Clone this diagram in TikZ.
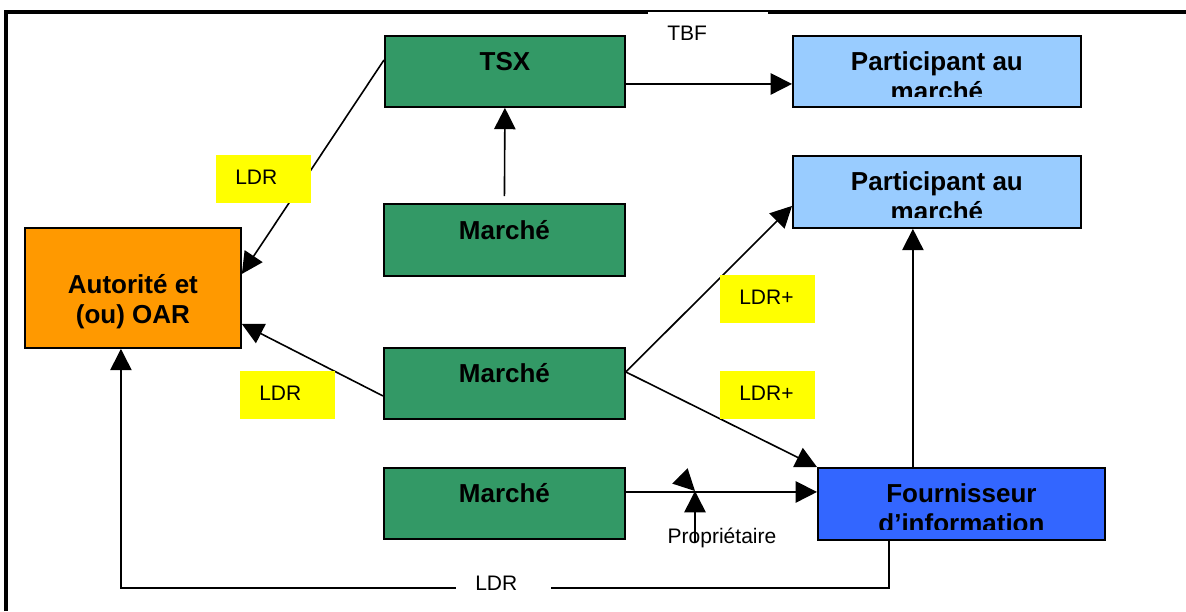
\documentclass[tikz,border=0pt]{standalone}
\usepackage{fontspec}
\setmainfont{Liberation Sans}
\usetikzlibrary{arrows.meta}

\definecolor{marchegreen}{HTML}{339966}
\definecolor{oarorange}{HTML}{FF9900}
\definecolor{partblue}{HTML}{99CCFF}
\definecolor{fournblue}{HTML}{3366FF}
\definecolor{tagyellow}{HTML}{FFFF00}

\tikzset{
  box/.style={draw,line width=1.4pt,anchor=north west,inner sep=0pt},
  boxtext/.style={anchor=base,inner sep=0pt,font=\fontsize{19.5}{23}\selectfont\bfseries},
  tag/.style={anchor=north west,inner xsep=14.25pt,inner ysep=0pt,text width=42.75pt,
    text height=21.75pt,text depth=14.25pt,align=left,font=\fontsize{15.75}{18}\selectfont},
  arr/.style={-{Triangle[length=16pt,width=16pt]},line width=1.2pt},
}
\newcommand{\twolines}[2]{\begin{tabular}[t]{@{}c@{}}#1\\#2\end{tabular}}

\begin{document}
\begin{tikzpicture}[x=0.75pt,y=-0.75pt]
   \useasboundingbox (0,0) rectangle (1186,611);
   % outer frame, open on the right and at the bottom
   \draw [line width=3pt] (6,611) -- (6,12) -- (1186,12);
   % the boxes
   \node [box,fill=marchegreen,minimum width=180pt,minimum height=53.25pt] (tsx) at (384,35) {};
   \node [box,fill=partblue,minimum width=216pt,minimum height=53.25pt] (pa1) at (792,35) {};
   \node [box,fill=partblue,minimum width=216pt,minimum height=54pt] (pa2) at (792,155) {};
   \node [box,fill=marchegreen,minimum width=180.75pt,minimum height=54pt] (m1) at (383,203) {};
   \node [box,fill=oarorange,minimum width=162pt,minimum height=90pt] (oar) at (24,227) {};
   \node [box,fill=marchegreen,minimum width=180.75pt,minimum height=53.25pt] (m2) at (383,347) {};
   \node [box,fill=marchegreen,minimum width=180.75pt,minimum height=53.25pt] (m3) at (383,467) {};
   \node [box,fill=fournblue,minimum width=215.25pt,minimum height=54pt] (four) at (817,467) {};
   % box texts, first baseline 35px under the top edge
   \node [boxtext] (tsx-t) at ([yshift=-26.25pt]tsx.north) {TSX};
   \node [boxtext] (m1-t) at ([yshift=-27pt]m1.north) {Marché};
   \node [boxtext] (m2-t) at ([yshift=-26.25pt]m2.north) {Marché};
   \node [boxtext] (m3-t) at ([yshift=-26.25pt]m3.north) {Marché};
   \node [boxtext] (oar-t) at ([yshift=-49.5pt]oar.north) {\twolines{Autorité et}{(ou) OAR}};
   % the second line is cut off in these three
   \foreach \b/\first/\second in {pa1/Participant au/marché,pa2/Participant au/marché,four/Fournisseur/d’information} {
     \begin{scope}
       \clip (\b.north west) rectangle ([yshift=8.25pt]\b.south east);
       \node [boxtext] (\b-t) at ([yshift=-26.25pt]\b.north) {\twolines{\first}{\second}};
     \end{scope}
   }
   % connectors
   \draw [arr] ([yshift=8.6pt]tsx.west) -- ([yshift=10.5pt]oar.east);
   \draw [arr] ([yshift=5.25pt]m1.north) -- (tsx.south);
   \draw [arr] ([yshift=-9.4pt]tsx.east) -- ([yshift=-9.4pt]pa1.west);
   \draw [arr] ([yshift=-9.4pt]m2.west) -- ([yshift=-27pt]oar.east);
   \draw [arr] ([yshift=8.6pt]m2.east) -- ([yshift=-10.5pt]pa2.west);
   \draw [arr] ([yshift=8.6pt]m2.east) -- (four.north west);
   \draw [arr] ([xshift=-36.4pt]four.north) -- ([xshift=-36.4pt]four.north |- pa2.south);
   \draw [arr] ([yshift=8.6pt]m3.east) -- ([yshift=8.6pt]m3.east -| four.west);
   \draw [arr] ([xshift=-54.4pt]four.south) -- ++(0,47) -| ([xshift=-9pt]oar.south);
   % owner arrows meeting the feed line
   \coordinate (jn) at (695,491);
   \node [anchor=base,inner sep=0pt,font=\fontsize{15.75}{18}\selectfont] (prop) at (722,543) {Propriétaire};
   \draw [arr] (prop.base -| jn) -- (jn);
   \draw [arr] ([shift={(-15,-15)}]jn) -- (jn);
   % labels
   \node [tag,fill=white,text width=61.5pt] (tbf) at (648,11.5) {TBF};
   \node [tag,fill=tagyellow] (ldr1) at (216,155) {LDR};
   \node [tag,fill=tagyellow] (ldr2) at (240,371) {LDR};
   \node [tag,fill=tagyellow] (ldrp1) at (720,275) {LDR+};
   \node [tag,fill=tagyellow] (ldrp2) at (720,371) {LDR+};
   \node [tag,fill=white] (ldr3) at (456,561.5) {LDR};
\end{tikzpicture}
\end{document}
